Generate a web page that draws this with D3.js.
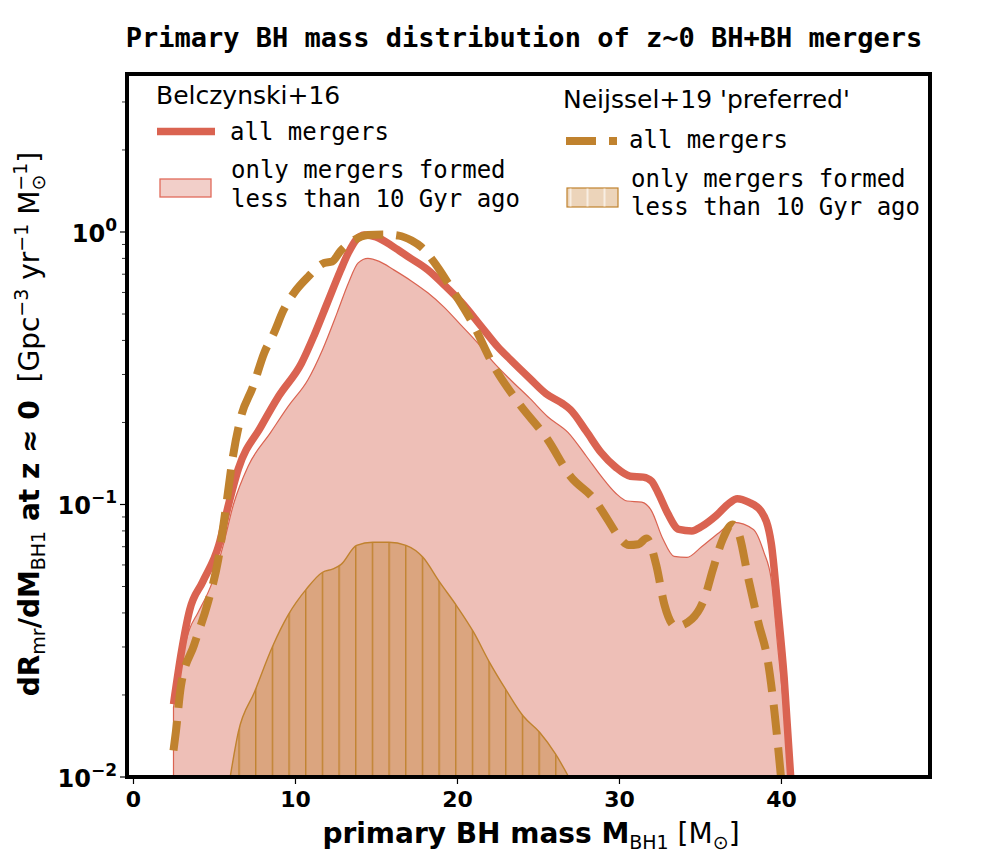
<!DOCTYPE html>
<html>
<head>
<meta charset="utf-8">
<script src="https://cdn.jsdelivr.net/npm/d3@7"></script>
<style>
  body { margin: 0; background: #fff; }
  svg { display: block; }
</style>
</head>
<body>
<script>
// Belczynski+16, all mergers
var belAllMass = [2.5, 3.0, 3.5, 4.3, 5.3, 5.9, 6.5, 7.9, 9.0, 10.4, 11.2, 12.0, 12.8, 13.3, 13.8, 14.3, 15.0, 16.1, 17.0, 18.2, 19.2, 20.3, 21.5, 22.5, 23.3, 24.5, 25.5, 26.5, 27.0, 28.0, 28.9, 29.8, 30.7, 31.5, 32.0, 32.4, 33.0, 33.7, 34.5, 35.1, 36.0, 36.8, 37.3, 38.0, 38.8, 39.4, 39.8, 40.2, 40.6];
var belAllRate = [0.0185, 0.029, 0.041, 0.052, 0.071, 0.100, 0.135, 0.193, 0.25, 0.33, 0.42, 0.55, 0.72, 0.84, 0.94, 0.975, 0.96, 0.88, 0.81, 0.726, 0.64, 0.55, 0.45, 0.38, 0.34, 0.29, 0.255, 0.235, 0.223, 0.185, 0.155, 0.137, 0.127, 0.126, 0.122, 0.111, 0.093, 0.081, 0.080, 0.083, 0.091, 0.101, 0.105, 0.102, 0.094, 0.072, 0.042, 0.023, 0.010];

// Belczynski+16, formed less than 10 Gyr ago
var belYoungMass = [2.5, 3.0, 3.5, 4.0, 4.9, 5.6, 6.2, 7.1, 8.5, 9.6, 10.8, 11.7, 12.6, 13.3, 13.9, 14.5, 15.2, 16.1, 17.2, 18.2, 19.2, 20.25, 21.3, 22.3, 23.3, 24.5, 25.6, 26.85, 28.0, 28.9, 29.8, 30.5, 31.4, 32.0, 32.7, 33.4, 34.2, 35.1, 36.2, 37.1, 38.3, 38.95, 39.4, 39.8, 40.2, 40.5];
var belYoungRate = [0.018, 0.027, 0.035, 0.040, 0.052, 0.072, 0.100, 0.138, 0.184, 0.23, 0.287, 0.37, 0.505, 0.65, 0.77, 0.80, 0.78, 0.726, 0.66, 0.598, 0.53, 0.455, 0.39, 0.33, 0.287, 0.245, 0.21, 0.184, 0.15, 0.127, 0.11, 0.103, 0.102, 0.095, 0.075, 0.0645, 0.064, 0.070, 0.079, 0.086, 0.081, 0.0667, 0.053, 0.030, 0.0173, 0.0104];

// Neijssel+19 'preferred', all mergers
var neiAllMass = [2.5, 2.65, 2.96, 3.77, 4.63, 5.25, 5.74, 6.17, 6.67, 7.4, 8.1, 8.7, 9.3, 9.94, 10.8, 11.8, 12.3, 12.8, 13.6, 14.5, 15.5, 16.4, 17.2, 17.8, 18.8, 19.6, 20.9, 22.3, 23.8, 25.6, 27.0, 28.5, 29.3, 30.0, 30.6, 31.2, 31.7, 32.3, 32.8, 33.5, 34.5, 35.3, 35.8, 36.4, 37.0, 37.4, 38.0, 38.6, 39.2, 39.6, 40.0];
var neiAllRate = [0.0125, 0.0147, 0.0216, 0.0305, 0.0438, 0.0623, 0.098, 0.150, 0.21, 0.27, 0.36, 0.426, 0.518, 0.598, 0.684, 0.77, 0.78, 0.85, 0.93, 0.975, 0.98, 0.97, 0.93, 0.88, 0.744, 0.628, 0.47, 0.32, 0.236, 0.173, 0.127, 0.104, 0.088, 0.076, 0.071, 0.0715, 0.075, 0.060, 0.043, 0.0357, 0.038, 0.0457, 0.0578, 0.0744, 0.0845, 0.078, 0.053, 0.037, 0.0264, 0.0173, 0.0100];

// Neijssel+19 'preferred', formed less than 10 Gyr ago
var neiYoungMass = [6.0, 6.5, 7.5, 8.6, 9.6, 10.7, 11.7, 12.35, 12.85, 13.8, 14.8, 15.8, 16.85, 17.9, 18.9, 20.0, 21.0, 22.0, 23.0, 24.1, 25.1, 26.1, 26.9];
var neiYoungRate = [0.0100, 0.0146, 0.0205, 0.030, 0.0395, 0.0489, 0.0564, 0.058, 0.0603, 0.0708, 0.0727, 0.0727, 0.0708, 0.064, 0.0522, 0.0423, 0.0342, 0.0264, 0.021, 0.0167, 0.0146, 0.0121, 0.0100];

var xTicks = [0, 10, 20, 30, 40];
var yTicks = [1e-2, 1e-1, 1];
var yTickExp = ["\u22122", "\u22121", "0"];

// Colours
var red = "#da6351", orange = "#c0822e";

var W = 995, H = 865;
var box = { left: 127, right: 930, top: 74, bottom: 777 };

var svg = d3.select("body").append("svg")
    .attr("width", W)
    .attr("height", H);

// Scales
var x = d3.scaleLinear()
    .domain([-0.37, 49.2])
    .range([box.left, box.right]);

var y = d3.scaleLog()
    .domain([0.01, 3.8])
    .range([box.bottom, box.top]);

function zip(ms, rs) {
  return ms.map(function(m, i) { return { m: m, r: rs[i] }; });
}

var defs = svg.append("defs");
defs.append("clipPath").attr("id", "clip")
  .append("rect")
    .attr("x", box.left).attr("y", box.top)
    .attr("width", box.right - box.left).attr("height", box.bottom - box.top);

// vertical hatch for the Neijssel young fill
var hatch = defs.append("pattern")
    .attr("id", "hatch")
    .attr("patternUnits", "userSpaceOnUse")
    .attr("x", 5).attr("y", 0)
    .attr("width", 16.67).attr("height", 20);
hatch.append("rect").attr("width", 16.67).attr("height", 20).attr("fill", "#dba57f");
hatch.append("line")
    .attr("x1", 0.7).attr("x2", 0.7).attr("y1", 0).attr("y2", 20)
    .attr("stroke", orange).attr("stroke-width", 1.4);

var plot = svg.append("g").attr("clip-path", "url(#clip)");

var area = d3.area()
    .curve(d3.curveMonotoneX)
    .x(function(d) { return x(d.m); })
    .y0(y(0.01) + 10)
    .y1(function(d) { return y(d.r); });

var line = d3.line()
    .curve(d3.curveMonotoneX)
    .x(function(d) { return x(d.m); })
    .y(function(d) { return y(d.r); });

// Belczynski young fill
plot.append("path")
    .datum(zip(belYoungMass, belYoungRate))
    .attr("d", area)
    .attr("fill", "#eebfb7")
    .attr("stroke", red)
    .attr("stroke-width", 1.2);

// Neijssel young fill
plot.append("path")
    .datum(zip(neiYoungMass, neiYoungRate))
    .attr("d", area)
    .attr("fill", "url(#hatch)")
    .attr("stroke", orange)
    .attr("stroke-width", 1.4);

// all mergers lines
plot.append("path")
    .datum(zip(belAllMass, belAllRate))
    .attr("d", line)
    .attr("fill", "none")
    .attr("stroke", red)
    .attr("stroke-width", 7.5);

plot.append("path")
    .datum(zip(neiAllMass, neiAllRate))
    .attr("d", line)
    .attr("fill", "none")
    .attr("stroke", orange)
    .attr("stroke-width", 8)
    .attr("stroke-dasharray", "30,13");

// Frame
svg.append("rect")
    .attr("x", box.left).attr("y", box.top)
    .attr("width", box.right - box.left).attr("height", box.bottom - box.top)
    .attr("fill", "none")
    .attr("stroke", "#000")
    .attr("stroke-width", 4);

// x axis
var xAxis = svg.append("g")
    .attr("transform", "translate(0," + (box.bottom + 2) + ")")
    .call(d3.axisBottom(x).tickValues(xTicks).tickSize(5).tickPadding(7).tickFormat(d3.format("d")));
xAxis.select(".domain").remove();
xAxis.selectAll("line").attr("stroke-width", 1.2);
xAxis.selectAll("text")
    .attr("font-family", "DejaVu Sans")
    .attr("font-weight", "bold")
    .attr("font-size", 22)
    .attr("fill", "#000");

// y axis: minor ticks
var minor = [];
[0.01, 0.1, 1].forEach(function(dec) {
  for (var k = 2; k <= 9; k++) if (k * dec < 3.8) minor.push(k * dec);
});
var yAxis = svg.append("g")
    .attr("transform", "translate(" + (box.left - 2) + ",0)");
yAxis.selectAll("line.minor")
  .data(minor)
  .enter().append("line")
    .attr("x1", 0).attr("x2", -3)
    .attr("y1", function(d) { return y(d); })
    .attr("y2", function(d) { return y(d); })
    .attr("stroke", "#000").attr("stroke-width", 0.8);
yAxis.selectAll("line.major")
  .data(yTicks)
  .enter().append("line")
    .attr("x1", 0).attr("x2", -5)
    .attr("y1", function(d) { return y(d); })
    .attr("y2", function(d) { return y(d); })
    .attr("stroke", "#000").attr("stroke-width", 1.2);
var yl = yAxis.selectAll("text.major")
  .data(yTicks)
  .enter().append("text")
    .attr("x", -8)
    .attr("y", function(d) { return y(d) + 10; })
    .attr("text-anchor", "end")
    .attr("font-family", "DejaVu Sans")
    .attr("font-weight", "bold")
    .attr("font-size", 24);
yl.append("tspan").text("10");
yl.append("tspan")
    .attr("dy", -11)
    .attr("font-size", 17)
    .text(function(d, i) { return yTickExp[i]; });

// Axis labels
var xl = svg.append("text")
    .attr("x", 531).attr("y", 843)
    .attr("text-anchor", "middle")
    .attr("font-family", "DejaVu Sans")
    .attr("font-size", 28)
    .attr("fill", "#000");
xl.append("tspan").attr("font-weight", "bold").text("primary BH mass M");
xl.append("tspan").attr("font-size", 19).attr("dy", 6).text("BH1");
xl.append("tspan").attr("dy", -6).text(" [M");
xl.append("tspan").attr("font-size", 19).attr("dy", 6).text("\u2299");
xl.append("tspan").attr("dy", -6).text("]");

var ylab = svg.append("text")
    .attr("transform", "translate(39,424) rotate(-90)")
    .attr("text-anchor", "middle")
    .attr("font-family", "DejaVu Sans")
    .attr("font-size", 28)
    .attr("fill", "#000");
ylab.append("tspan").attr("font-weight", "bold").text("dR");
ylab.append("tspan").attr("font-size", 19).attr("dy", 6).text("mr");
ylab.append("tspan").attr("font-weight", "bold").attr("dy", -6).text("/dM");
ylab.append("tspan").attr("font-size", 19).attr("dy", 6).text("BH1");
ylab.append("tspan").attr("font-weight", "bold").attr("dy", -6).text(" at z \u2248 0");
ylab.append("tspan").text("\u00a0\u00a0[Gpc");
ylab.append("tspan").attr("font-size", 19).attr("dy", -11).text("\u22123");
ylab.append("tspan").attr("dy", 11).text(" yr");
ylab.append("tspan").attr("font-size", 19).attr("dy", -11).text("\u22121");
ylab.append("tspan").attr("dy", 11).text(" M");
ylab.append("tspan").attr("font-size", 19).attr("dy", 6).text("\u2299");
ylab.append("tspan").attr("font-size", 19).attr("dx", -16).attr("dy", -18).text("\u22121");
ylab.append("tspan").attr("dy", 12).text("]");

// Title
svg.append("text")
    .attr("x", 524).attr("y", 47)
    .attr("text-anchor", "middle")
    .attr("font-family", "DejaVu Sans Mono")
    .attr("font-weight", "bold")
    .attr("font-size", 27)
    .text("Primary BH mass distribution of z~0 BH+BH mergers");

// Legends
var legendTitles = ["Belczynski+16", "Neijssel+19 'preferred'"];
var legendEntries = ["all mergers", "only mergers formed", "less than 10 Gyr ago"];

var lg = svg.append("g");
lg.append("text").attr("x", 156).attr("y", 104)
    .attr("font-family", "DejaVu Sans").attr("font-size", 25)
    .text(legendTitles[0]);
lg.append("line")
    .attr("x1", 157).attr("x2", 215).attr("y1", 131.5).attr("y2", 131.5)
    .attr("stroke", red).attr("stroke-width", 7.5);
lg.append("text").attr("x", 230).attr("y", 140)
    .attr("font-family", "DejaVu Sans Mono").attr("font-size", 24)
    .text(legendEntries[0]);
lg.append("rect")
    .attr("x", 160).attr("y", 179).attr("width", 51).attr("height", 18)
    .attr("fill", "#f2cfc9").attr("stroke", "#e06b5b").attr("stroke-width", 1.3);
lg.append("text").attr("x", 231).attr("y", 178)
    .attr("font-family", "DejaVu Sans Mono").attr("font-size", 24)
    .text(legendEntries[1]);
lg.append("text").attr("x", 231).attr("y", 207)
    .attr("font-family", "DejaVu Sans Mono").attr("font-size", 24)
    .text(legendEntries[2]);

var rg = svg.append("g");
rg.append("text").attr("x", 563).attr("y", 108)
    .attr("font-family", "DejaVu Sans").attr("font-size", 25)
    .text(legendTitles[1]);
rg.append("line")
    .attr("x1", 566).attr("x2", 617).attr("y1", 141).attr("y2", 141)
    .attr("stroke", orange).attr("stroke-width", 8)
    .attr("stroke-dasharray", "30,13");
rg.append("text").attr("x", 629).attr("y", 148)
    .attr("font-family", "DejaVu Sans Mono").attr("font-size", 24)
    .text(legendEntries[0]);
rg.append("rect")
    .attr("x", 567).attr("y", 188).attr("width", 51).attr("height", 19)
    .attr("fill", "#ecd4ba").attr("stroke", orange).attr("stroke-width", 1.2);
rg.selectAll("line.h")
  .data([570.5, 587.5, 604.5])
  .enter().append("line")
    .attr("x1", function(d) { return d; }).attr("x2", function(d) { return d; })
    .attr("y1", 188.6).attr("y2", 206.4)
    .attr("stroke", "#f8eee3").attr("stroke-width", 2);
rg.append("text").attr("x", 631).attr("y", 187)
    .attr("font-family", "DejaVu Sans Mono").attr("font-size", 24)
    .text(legendEntries[1]);
rg.append("text").attr("x", 631).attr("y", 215)
    .attr("font-family", "DejaVu Sans Mono").attr("font-size", 24)
    .text(legendEntries[2]);
</script>
</body>
</html>
